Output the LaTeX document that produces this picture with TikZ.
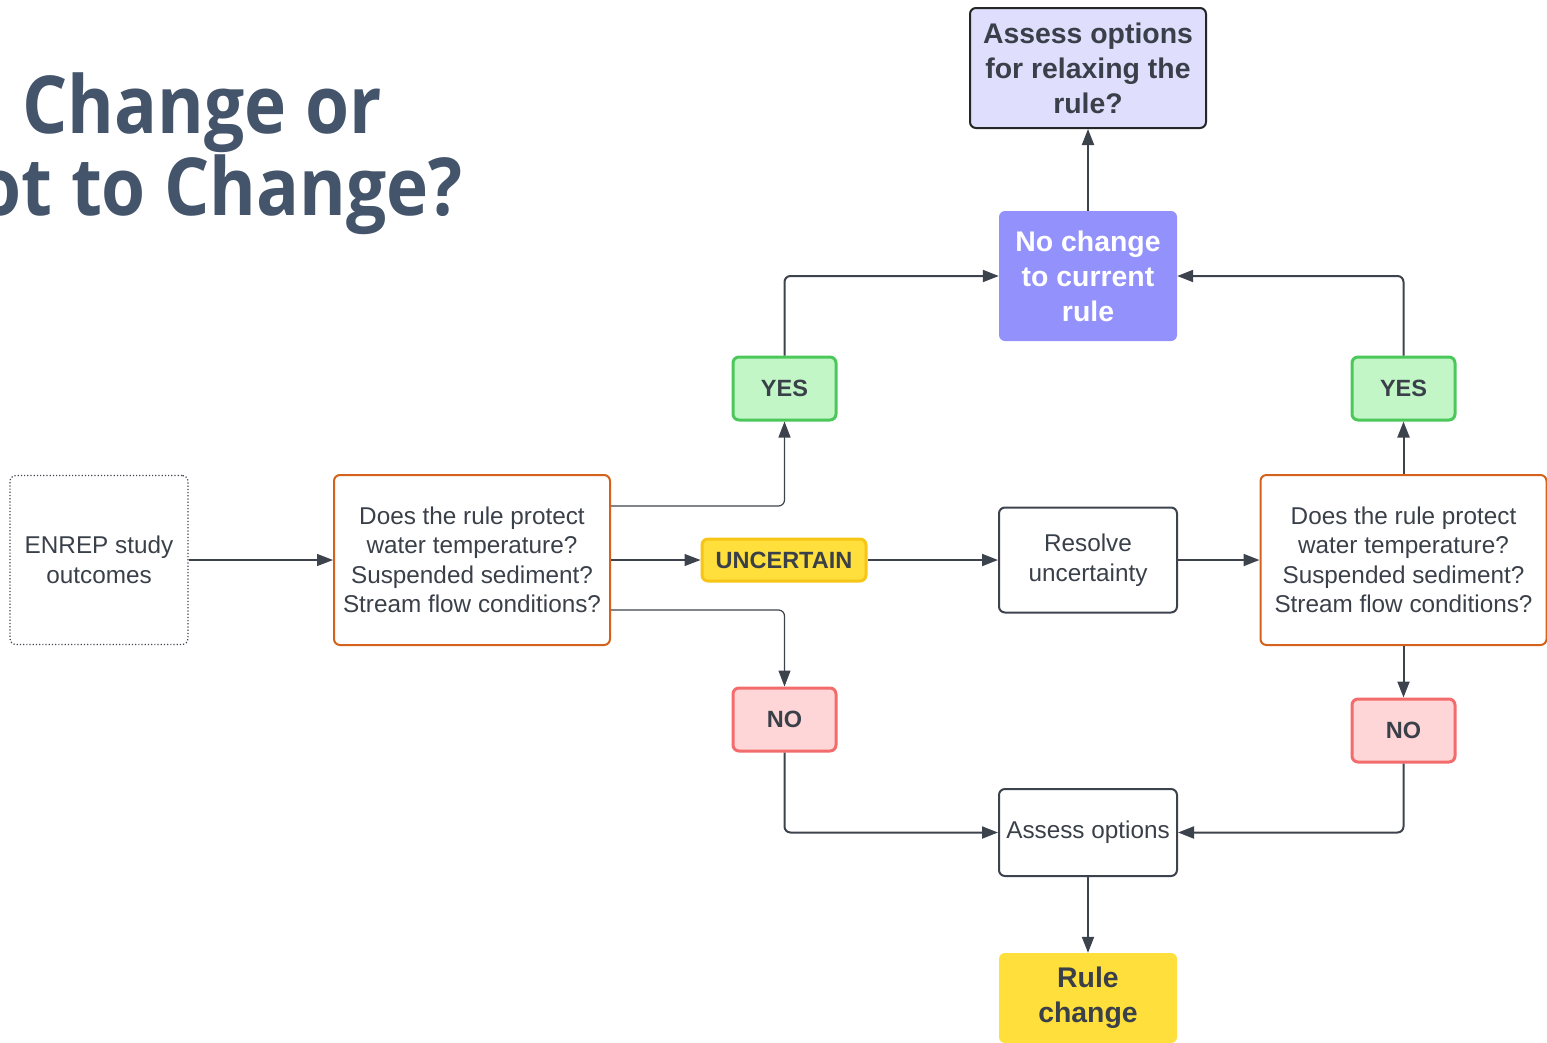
\documentclass[tikz,border=0pt]{standalone}
\usepackage{fontspec}
\setmainfont{Liberation Sans}
\newfontfamily\titlefont{Open Sans}
\usetikzlibrary{arrows.meta}
\definecolor{ink}{HTML}{3A4049}
\definecolor{lineink}{HTML}{3D434D}
\definecolor{titleink}{HTML}{44546A}
\definecolor{qorange}{HTML}{D4621C}
\definecolor{yesfill}{HTML}{C2F6C7}
\definecolor{yesdraw}{HTML}{4CC85A}
\definecolor{nofill}{HTML}{FFD6D7}
\definecolor{nodraw}{HTML}{F36C6C}
\definecolor{yelfill}{HTML}{FFDF3B}
\definecolor{yeldraw}{HTML}{F6C516}
\definecolor{purfill}{HTML}{9392FD}
\definecolor{lavfill}{HTML}{DFDEFC}
\tikzset{
  base/.style={rounded corners=6pt, align=center, inner sep=0pt, text=ink,
    font=\fontsize{24.3}{29.5}\selectfont},
  bigbold/.style={base, font=\fontsize{28.4}{35}\selectfont\bfseries},
  tag/.style={base, font=\fontsize{23.5}{28}\selectfont\bfseries, line width=3pt},
  question/.style={base, draw=qorange, line width=2pt, minimum height=170pt},
  plainbox/.style={base, draw=lineink, line width=2pt, minimum width=178pt},
  yesbox/.style={tag, fill=yesfill, draw=yesdraw, minimum width=103pt, minimum height=63pt},
  nobox/.style={tag, fill=nofill, draw=nodraw, minimum width=103pt, minimum height=63pt},
  conn/.style={draw=lineink, line width=2pt, rounded corners=6pt,
    -{Triangle[length=16pt,width=12pt]}},
  thinconn/.style={conn, line width=1.2pt},
  titletext/.style={anchor=base east, inner sep=0pt, text=titleink,
    font=\fontsize{80}{84}\selectfont\titlefont\bfseries},
}
\begin{document}
\begin{tikzpicture}[x=1pt,y=-1pt]
\useasboundingbox (0,0) rectangle (1547,1042);
\clip (0,0) rectangle (1547,1042);

% title
\node[titletext] (t1) at (382,133) {\scalebox{0.89}[1]{Change or}};
\node[titletext] (t2) at (463,215) {\scalebox{0.89}[1]{ot to Change?}};

% nodes
\node[bigbold, fill=lavfill, draw=black!85, line width=2pt, minimum width=236pt, minimum height=120pt] (top) at (1088,68) {Assess options\\for relaxing the\\rule?};
\node[bigbold, fill=purfill, text=white, minimum width=178pt, minimum height=130pt] (nochange) at (1088,276) {No change\\to current\\rule};
\node[yesbox] (yesL) at (784.5,388.5) {YES};
\node[yesbox] (yesR) at (1403.5,388.5) {YES};
\node[base, draw=lineink, line width=1.2pt, dotted, minimum width=178pt, minimum height=169pt] (enrep) at (99,560) {ENREP study\\outcomes};
\node[question, minimum width=276pt] (qL) at (472,560) {Does the rule protect\\water temperature?\\Suspended sediment?\\Stream flow conditions?};
\node[tag, fill=yelfill, draw=yeldraw, minimum width=164pt, minimum height=42pt] (unc) at (784,560) {UNCERTAIN};
\node[plainbox, minimum height=105pt] (resolve) at (1088,560) {Resolve\\uncertainty};
\node[question, minimum width=286pt] (qR) at (1403.5,560) {Does the rule protect\\water temperature?\\Suspended sediment?\\Stream flow conditions?};
\node[nobox] (noL) at (784.5,719.5) {NO};
\node[nobox] (noR) at (1403.5,730.5) {NO};
\node[plainbox, minimum height=87pt] (assess) at (1088,832.5) {Assess options};
\node[bigbold, fill=yelfill, minimum width=178pt, minimum height=90pt] (rule) at (1088,998) {Rule\\change};

% connectors
\draw[thinconn] (enrep.east) -- (qL.west);
\draw[thinconn] ([yshift=54pt]qL.east) -| (yesL.south);
\draw[thinconn] (qL.east) -- (unc.west);
\draw[thinconn] ([yshift=-50pt]qL.east) -| (noL.north);
\draw[conn] (unc.east) -- (resolve.west);
\draw[conn] (resolve.east) -- (qR.west);
\draw[conn] (qR.north) -- (yesR.south);
\draw[conn] (qR.south) -- (noR.north);
\draw[conn] (yesL.north) |- (nochange.west);
\draw[conn] (yesR.north) |- (nochange.east);
\draw[conn] (nochange.north) -- (top.south);
\draw[conn] (noL.south) |- (assess.west);
\draw[conn] (noR.south) |- (assess.east);
\draw[conn] (assess.south) -- (rule.north);
\end{tikzpicture}
\end{document}
